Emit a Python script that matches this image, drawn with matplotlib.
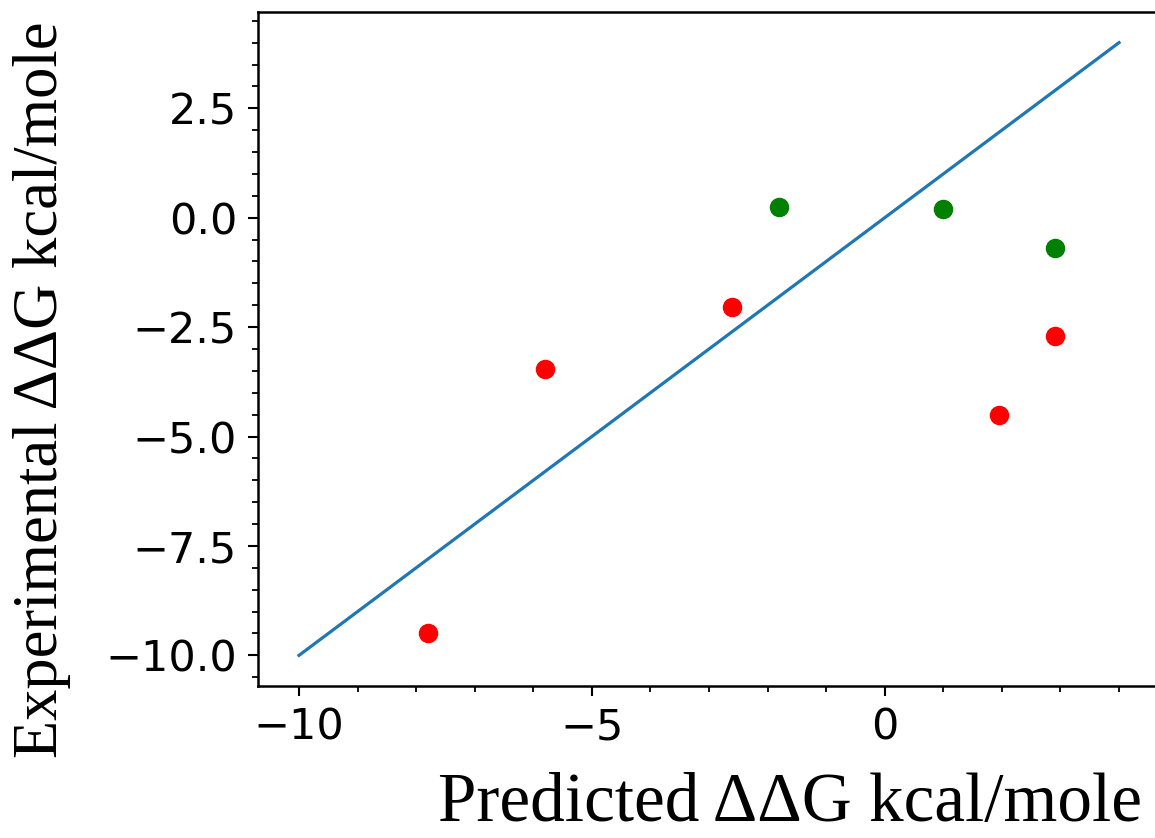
import numpy as np
import matplotlib
matplotlib.use("Agg")
import matplotlib.pyplot as plt
from matplotlib.ticker import AutoMinorLocator

# predicted vs experimental ddG (kcal/mole)
red_pred = [-7.8, -5.8, -2.6, 1.95, 2.9]
red_exp = [-9.5, -3.45, -2.05, -4.5, -2.7]
green_pred = [-1.8, 1.0, 2.9]
green_exp = [0.25, 0.2, -0.7]
ideal = [-10, 4]

fig = plt.figure(figsize=(11.55, 8.38), dpi=100)
ax = fig.add_axes([258 / 1155, 1 - 686 / 838, 902 / 1155, 674 / 838])

ax.plot(ideal, ideal, color='#1f77b4', linewidth=2.3)
ax.scatter(red_pred, red_exp, color='red', s=170, zorder=3)
ax.scatter(green_pred, green_exp, color='green', s=170, zorder=3)

ax.xaxis.set_minor_locator(AutoMinorLocator())
ax.yaxis.set_minor_locator(AutoMinorLocator())
ax.tick_params(which='major', length=7, width=1.5, pad=8, labelsize=31)
ax.tick_params(which='minor', length=4, width=1.3)
for s in ax.spines.values():
    s.set_linewidth(1.8)

serif = ['Liberation Serif', 'DejaVu Serif']
xl = fig.text(790 / 1155, 1 - 804 / 838, 'Predicted ΔΔG kcal/mole', family=serif,
              fontsize=50, ha='center', va='center')
yl = fig.text(42 / 1155, 1 - 390 / 838, 'Experimental ΔΔG kcal/mole', family=serif,
              fontsize=50, ha='center', va='center', rotation=90)

# scale the label fonts so they span about as far as in the reference
r = fig.canvas.get_renderer()
w = xl.get_window_extent(r).width
xl.set_fontsize(50 * 704 / w)
h = yl.get_window_extent(r).height
yl.set_fontsize(50 * 737 / h)

fig.savefig('out.png', dpi=100)
